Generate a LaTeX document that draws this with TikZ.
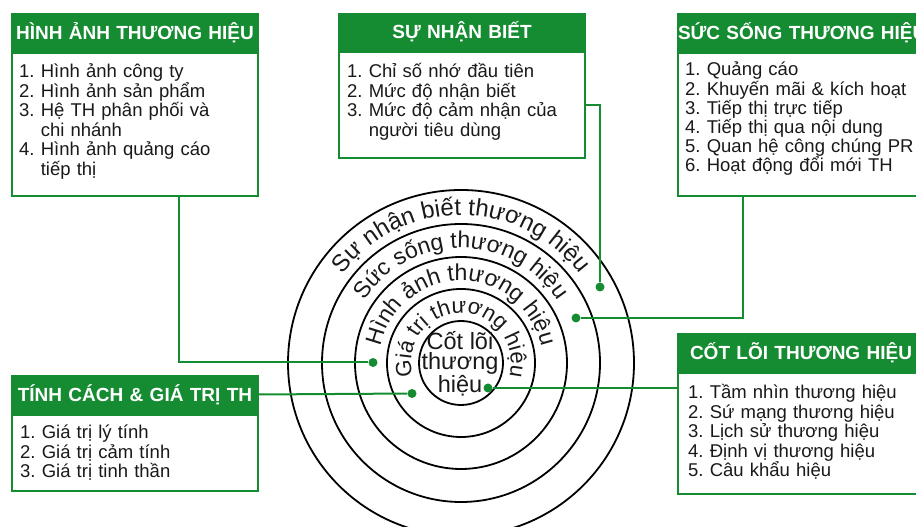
\documentclass[tikz,border=0pt]{standalone}
\usepackage{fontspec}
\setmainfont{Liberation Sans}
\usetikzlibrary{decorations.text}
\frenchspacing

\definecolor{brandgreen}{RGB}{22,140,50}
\definecolor{inktext}{RGB}{25,25,25}

\newcommand\listfont{\fontsize{18.5}{19.5}\selectfont}
\newcommand\headfont{\fontsize{19}{22}\selectfont\bfseries}
\newcommand\outerringfont{\fontsize{24}{24}\selectfont}
\newcommand\ringfont{\fontsize{23}{23}\selectfont}
\newcommand\smallringfont{\fontsize{22}{22}\selectfont}
\newcommand\corefont{\fontsize{23.5}{20}\selectfont}

\begin{document}
\begin{tikzpicture}[x=1pt,y=1pt,
  head/.style={fill=brandgreen, draw=brandgreen, line width=2pt, text=white,
    font=\headfont, text width=246pt, align=center, minimum height=37pt,
    inner sep=0pt, anchor=north west},
  framebox/.style={draw=brandgreen, line width=2pt, fill=white,
    minimum width=246pt, inner sep=0pt, anchor=north},
  items/.style={font=\listfont, text=inktext, text width=236pt,
    inner sep=0pt, anchor=base west, align=left},
  link/.style={draw=brandgreen, line width=2pt},
  dot/.style={circle, fill=brandgreen, inner sep=0pt, minimum size=9pt},
  ring/.style={line width=1.8pt, draw=black},
  ringtext/.style={decorate, decoration={text along path, text align=center,
    text color=inktext, text={#1}}},
]
\path[use as bounding box] (0,0) rectangle (916,527);
\clip (0,0) rectangle (916,527);

% concentric rings of the brand model
\coordinate (c) at (461,164);
\foreach \r in {42,74,106,139,173}
  \draw[ring] (c) circle[radius=\r];

\path[ringtext={|\outerringfont|Sự nhận biết thương hiệu}]
  ([shift={(170:148)}]c) arc[start angle=170, end angle=10, radius=148];
\path[ringtext={|\ringfont|Sức sống thương hiệu}]
  ([shift={(175:115)}]c) arc[start angle=175, end angle=5, radius=115];
\path[ringtext={|\ringfont|Hình ảnh thương hiệu}]
  ([shift={(210:82)}]c) arc[start angle=210, end angle=-30, radius=82];
\path[ringtext={|\smallringfont|Giá trị thương hiệu}]
  ([shift={(240:50)}]c) arc[start angle=240, end angle=-60, radius=50];

\node[font=\corefont, text=inktext, align=center, inner sep=0pt] (core)
  at (460,163) {Cốt lõi\\thương\\hiệu};

% category boxes
\node[head] (h1) at (11,514) {HÌNH ẢNH THƯƠNG HIỆU};
\node[framebox, minimum height=143pt] (b1) at (h1.south) {};
\node[items] (t1) at ([shift={(8,-26)}]b1.north west)
  {1. Hình ảnh công ty\\2. Hình ảnh sản phẩm\\3. Hệ TH phân phối và\\\hphantom{3. }chi nhánh\\4. Hình ảnh quảng cáo\\\hphantom{4. }tiếp thị};

\node[head, minimum height=36pt] (h2) at (338,514) {SỰ NHẬN BIẾT};
\node[framebox, minimum height=106pt] (b2) at (h2.south) {};
\node[items] (t2) at ([shift={(9,-27)}]b2.north west)
  {1. Chỉ số nhớ đầu tiên\\2. Mức độ nhận biết\\3. Mức độ cảm nhận của\\\hphantom{3. }người tiêu dùng};

\node[head] (h3) at (677,514) {\mbox{SỨC SỐNG THƯƠNG HIỆU}};
\node[framebox, minimum height=143pt] (b3) at (h3.south) {};
\node[items, font=\fontsize{18.5}{19.2}\selectfont] (t3) at ([shift={(8,-24)}]b3.north west)
  {1. Quảng cáo\\2. Khuyến mãi \& kích hoạt\\3. Tiếp thị trực tiếp\\4. Tiếp thị qua nội dung\\5. Quan hệ công chúng PR\\6. Hoạt động đổi mới TH};

\node[head] (h4) at (11,152) {TÍNH CÁCH \& GIÁ TRỊ TH};
\node[framebox, minimum height=76pt] (b4) at (h4.south) {};
\node[items] (t4) at ([shift={(9,-25)}]b4.north west)
  {1. Giá trị lý tính\\2. Giá trị cảm tính\\3. Giá trị tinh thần};

\node[head] (h5) at (677,194) {CỐT LÕI THƯƠNG HIỆU};
\node[framebox, minimum height=121pt] (b5) at (h5.south) {};
\node[items] (t5) at ([shift={(11,-27)}]b5.north west)
  {1. Tầm nhìn thương hiệu\\2. Sứ mạng thương hiệu\\3. Lịch sử thương hiệu\\4. Định vị thương hiệu\\5. Câu khẩu hiệu};

% anchor dots on the rings
\node[dot] (d1) at (373,164.5) {};
\node[dot] (d2) at (412,133.5) {};
\node[dot] (d3) at (600,240) {};
\node[dot] (d4) at (576,209) {};
\node[dot] (d5) at (488,139) {};

% connectors from boxes to rings
\draw[link] ([xshift=44pt]b1.south) |- (d1);
\draw[link] (h4.east) -- (d2);
\draw[link] (b2.east) -| (d3);
\draw[link] ([xshift=-58pt]b3.south) |- (d4);
\draw[link] (b5.west |- d5) -- (d5);
\end{tikzpicture}
\end{document}
